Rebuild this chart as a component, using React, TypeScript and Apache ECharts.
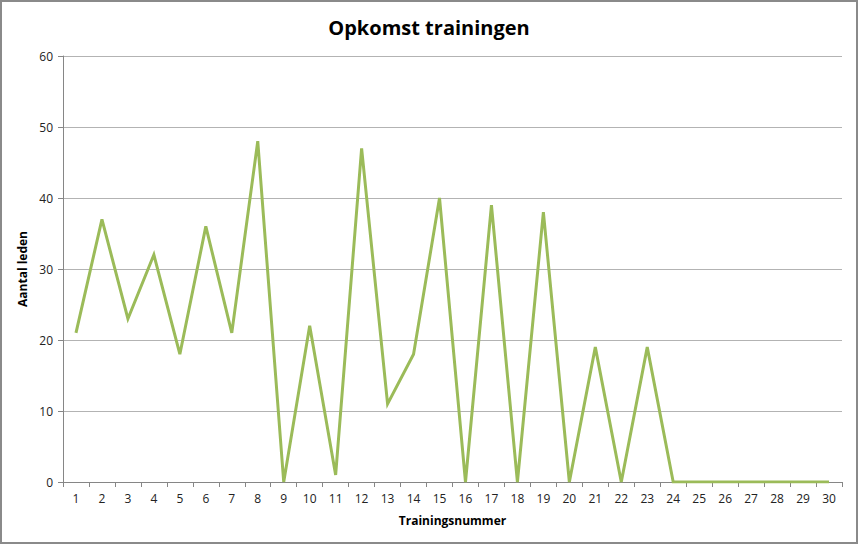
import React, { useEffect, useRef } from "react";
import * as echarts from "echarts";

const categories = Array.from({ length: 30 }, (_, i) => String(i + 1));
const attendance = [21, 37, 23, 32, 18, 36, 21, 48, 0, 22, 1, 47, 11, 18, 40, 0, 39, 0, 38, 0, 19, 0, 19, 0, 0, 0, 0, 0, 0, 0];
const titleText = "Opkomst trainingen";
const xName = "Trainingsnummer";
const yName = "Aantal leden";

export default function App() {
  const ref = useRef<HTMLDivElement>(null);
  useEffect(() => {
    if (!ref.current) return;
    const chart = echarts.init(ref.current, null, { renderer: "svg" });
    const font = "'Open Sans', sans-serif";
    chart.setOption({
      animation: false,
      backgroundColor: "#fff",
      textStyle: { fontFamily: font },
      title: {
        text: titleText,
        left: "center",
        top: 12,
        textStyle: { fontFamily: font, fontSize: 20, fontWeight: "bold", color: "#000" },
      },
      grid: { left: 63, right: 16, top: 56, bottom: 62, containLabel: false },
      xAxis: {
        type: "category",
        data: categories,
        boundaryGap: true,
        name: xName,
        nameLocation: "middle",
        nameGap: 32,
        nameTextStyle: { fontFamily: font, fontSize: 12, fontWeight: "bold", color: "#000" },
        axisLine: { lineStyle: { color: "#868686", width: 1 } },
        axisTick: { show: true, alignWithLabel: false, length: 5, lineStyle: { color: "#868686" } },
        axisLabel: { fontFamily: font, fontSize: 12, color: "#222", margin: 10 },
        splitLine: { show: false },
      },
      yAxis: {
        type: "value",
        min: 0,
        max: 60,
        interval: 10,
        name: yName,
        nameLocation: "middle",
        nameGap: 31,
        nameRotate: 90,
        nameTextStyle: { fontFamily: font, fontSize: 12, fontWeight: "bold", color: "#000" },
        axisLine: { show: true, lineStyle: { color: "#868686", width: 1 } },
        axisTick: { show: true, length: 5, lineStyle: { color: "#868686" } },
        axisLabel: { fontFamily: font, fontSize: 12, color: "#222", margin: 10 },
        splitLine: { show: true, lineStyle: { color: "#b3b3b3", width: 1 } },
      },
      series: [
        {
          type: "line",
          data: attendance,
          symbol: "none",
          lineStyle: { color: "#9BBB59", width: 3, join: "miter" },
          itemStyle: { color: "#9BBB59" },
        },
      ],
    });
    return () => chart.dispose();
  }, []);
  return (
    <div
      style={{
        position: "fixed",
        left: 0,
        top: 0,
        width: 858,
        height: 544,
        background: "#fff",
      }}
    >
      <div ref={ref} style={{ position: "absolute", left: 0, top: 0, width: 858, height: 544 }} />
      <div
        style={{
          position: "absolute",
          left: 0,
          top: 0,
          width: 858,
          height: 544,
          boxSizing: "border-box",
          border: "2px solid #8a8a8a",
          pointerEvents: "none",
        }}
      />
    </div>
  );
}
